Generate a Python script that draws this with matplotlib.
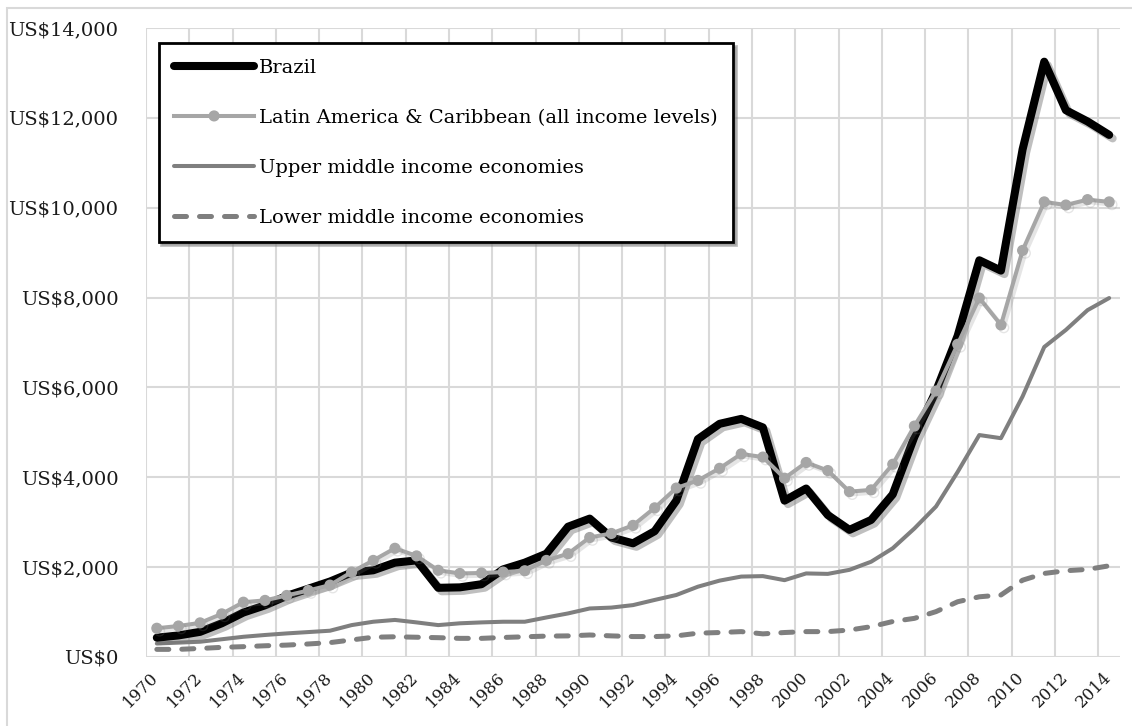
"""GDP per capita: Brazil vs regional and income-group aggregates, 1970-2014."""

import matplotlib
matplotlib.use("Agg")
import matplotlib.pyplot as plt
import matplotlib.patheffects as pe
from matplotlib.patches import Rectangle
from matplotlib.ticker import FuncFormatter, MultipleLocator

years = list(range(1970, 2015))

brazil = [430, 480, 560, 750, 990, 1150, 1360, 1520, 1680, 1880,
          1930, 2100, 2150, 1540, 1550, 1620, 1950, 2100, 2300, 2900,
          3080, 2660, 2530, 2800, 3480, 4850, 5190, 5300, 5110, 3480,
          3750, 3160, 2830, 3050, 3620, 4900, 5920, 7150, 8830, 8600,
          11300, 13250, 12170, 11920, 11620]

latam = [640, 690, 760, 960, 1220, 1260, 1370, 1480, 1600, 1890,
         2150, 2420, 2250, 1930, 1860, 1870, 1890, 1920, 2150, 2300,
         2660, 2750, 2930, 3320, 3760, 3930, 4200, 4520, 4450, 3980,
         4330, 4150, 3680, 3720, 4290, 5140, 5920, 6960, 7990, 7390,
         9050, 10130, 10060, 10180, 10130]

upper_mid = [300, 320, 340, 395, 450, 490, 525, 555, 585, 710,
             785, 825, 770, 710, 750, 770, 785, 785, 880, 970,
             1080, 1100, 1155, 1270, 1380, 1565, 1700, 1790, 1800, 1710,
             1860, 1850, 1940, 2120, 2420, 2860, 3350, 4120, 4940, 4870,
             5800, 6900, 7280, 7720, 7990]

lower_mid = [170, 170, 190, 215, 230, 250, 265, 290, 320, 380,
             440, 450, 440, 430, 415, 415, 435, 450, 465, 470,
             490, 470, 455, 455, 470, 530, 545, 565, 515, 545,
             565, 565, 600, 675, 790, 860, 1010, 1230, 1340, 1380,
             1710, 1860, 1920, 1950, 2030]

labels = ["Brazil",
          "Latin America & Caribbean (all income levels)",
          "Upper middle income economies",
          "Lower middle income economies"]

plt.rcParams["font.family"] = ["DejaVu Serif"]
plt.rcParams["font.size"] = 14

fig = plt.figure(figsize=(11.32, 7.26), dpi=100)
ax = fig.add_axes([146 / 1132, 69 / 726, 974 / 1132, 629 / 726])

x = list(range(len(years)))
dark_shadow = [pe.SimpleLineShadow(offset=(2.5, -2.5), shadow_color="0.45", alpha=0.45),
               pe.Normal()]
light_shadow = [pe.SimpleLineShadow(offset=(2, -2), shadow_color="0.5", alpha=0.2),
                pe.Normal()]

ax.plot(x, brazil, color="black", lw=5.8, solid_joinstyle="round",
        solid_capstyle="round", label=labels[0], path_effects=dark_shadow, zorder=3)
ax.plot(x, latam, color="#a6a6a6", lw=2.9, marker="o", ms=7, solid_joinstyle="round",
        label=labels[1], path_effects=light_shadow, zorder=4)
ax.plot(x, upper_mid, color="#7f7f7f", lw=2.9, solid_joinstyle="round",
        solid_capstyle="round", label=labels[2], zorder=2)
ax.plot(x, lower_mid, color="#7f7f7f", lw=3.6, dashes=(2.4, 2.6),
        dash_capstyle="round", label=labels[3], zorder=2)

ax.set_xlim(-0.5, len(years) - 0.5)
ax.set_ylim(0, 14000)
ax.yaxis.set_major_locator(MultipleLocator(2000))
ax.yaxis.set_major_formatter(FuncFormatter(lambda v, p: "US${:,.0f}".format(v)))

# category labels every two years, rotated, right end at the category centre
ax.set_xticks(x[::2])
ax.set_xticklabels([])
for i in x[::2]:
    ax.annotate(str(years[i]), xy=(i, 0), xycoords=("data", "axes fraction"),
                xytext=(-0.5, -13), textcoords="offset points",
                rotation=45, ha="right", va="center", rotation_mode="anchor",
                fontsize=12, color="#1a1a1a", annotation_clip=False)

ax.set_xticks([i - 0.5 for i in range(0, len(years) + 1, 2)], minor=True)
ax.grid(False)
ax.grid(True, which="minor", axis="x", color="#d9d9d9", lw=1.5)
ax.grid(True, which="major", axis="y", color="#d9d9d9", lw=1.5)
ax.set_axisbelow(True)

ax.tick_params(axis="both", which="both", length=0, colors="#1a1a1a")
ax.tick_params(axis="y", pad=20)
for s in ax.spines.values():
    s.set_visible(False)

leg = ax.legend(loc="upper left", bbox_to_anchor=(0.013, 0.976), borderaxespad=0,
                fancybox=False, shadow={"color": "0.5", "alpha": 0.5},
                handlelength=4.1, handletextpad=0.25, labelspacing=1.65,
                borderpad=0.8, fontsize=14)
leg.get_frame().set_edgecolor("black")
leg.get_frame().set_linewidth(2)
for h in leg.get_lines():
    h.set_path_effects([pe.Normal()])

fig.patches.append(Rectangle((7 / 1132, -0.05), 1.2, (726 - 8) / 726 + 0.05,
                             transform=fig.transFigure, fill=False,
                             edgecolor="#d9d9d9", lw=1.5))

fig.savefig("out.png", dpi=100)
